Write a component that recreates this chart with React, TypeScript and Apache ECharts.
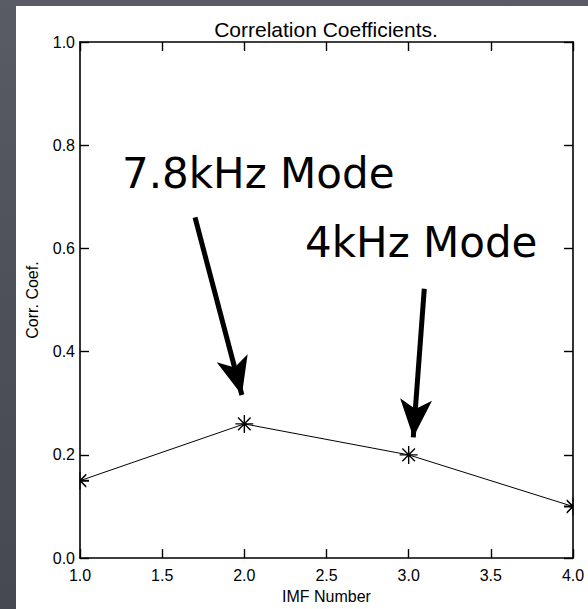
import React, { useEffect, useRef } from "react";
import * as echarts from "echarts";

const IMF_NUMBERS = [1, 2, 3, 4];
const CORR_COEFS = [0.15, 0.26, 0.2, 0.1];
const X_RANGE = [1, 4, 0.5];
const Y_RANGE = [0, 1, 0.2];
const TITLE = "Correlation Coefficients.";
const X_NAME = "IMF Number";
const Y_NAME = "Corr. Coef.";
// annotation arrows in data coordinates: [fromX, fromY, toX, toY]
const ARROWS = [
  [1.7, 0.66, 1.985, 0.316],
  [3.095, 0.522, 3.028, 0.234],
];
const NOTES = ["7.8kHz Mode", "4kHz Mode"];

const FULL_STAR = "path://M0 5L10 5M5 0L5 10M1.5 1.5L8.5 8.5M1.5 8.5L8.5 1.5";
const RIGHT_HALF = "path://M5 0L5 10M5 5L10 5M5 5L8.5 1.5M5 5L8.5 8.5";
const LEFT_HALF = "path://M5 0L5 10M5 5L0 5M5 5L1.5 1.5M5 5L1.5 8.5";

const AXIS_FONT = "'Liberation Sans', Arial, Helvetica, sans-serif";

export default function App() {
  const ref = useRef<HTMLDivElement>(null);
  useEffect(() => {
    if (!ref.current) return;
    const chart = echarts.init(ref.current, undefined, { renderer: "svg" });
    const last = IMF_NUMBERS.length - 1;
    const data = IMF_NUMBERS.map((x, i) => {
      const item: any = { value: [x, CORR_COEFS[i]] };
      if (i === 0) {
        item.symbol = RIGHT_HALF;
        item.symbolSize = [9, 18];
        item.symbolOffset = [4.5, 0];
      } else if (i === last) {
        item.symbol = LEFT_HALF;
        item.symbolSize = [9, 18];
        item.symbolOffset = [-4.5, 0];
      }
      return item;
    });
    const axisLine = { show: true, onZero: false, lineStyle: { color: "#000", width: 1.6 } };
    const axisTick = { show: true, inside: true, length: 9, lineStyle: { color: "#000", width: 1.4 } };
    const label = { color: "#000", fontSize: 16, fontFamily: AXIS_FONT, formatter: (v: number) => v.toFixed(1) };
    chart.setOption({
      animation: false,
      backgroundColor: "transparent",
      title: {
        text: TITLE,
        left: 326,
        textAlign: "center",
        top: 19,
        padding: 0,
        textStyle: { color: "#000", fontSize: 21, fontWeight: "normal", fontFamily: AXIS_FONT },
      },
      grid: { left: 80, right: 15, top: 42, bottom: 44 },
      xAxis: [
        {
          type: "value", min: X_RANGE[0], max: X_RANGE[1], interval: X_RANGE[2],
          axisLine, axisTick, splitLine: { show: false },
          axisLabel: { ...label, margin: 9 },
          name: X_NAME, nameLocation: "middle", nameGap: 29,
          nameTextStyle: { color: "#000", fontSize: 16, fontFamily: AXIS_FONT },
        },
        {
          type: "value", position: "top", min: X_RANGE[0], max: X_RANGE[1], interval: X_RANGE[2],
          axisLine, axisTick, splitLine: { show: false }, axisLabel: { show: false },
        },
      ],
      yAxis: [
        {
          type: "value", min: Y_RANGE[0], max: Y_RANGE[1], interval: Y_RANGE[2],
          axisLine, axisTick, splitLine: { show: false },
          axisLabel: { ...label, margin: 5 },
          name: Y_NAME, nameLocation: "middle", nameGap: 40, nameRotate: 90,
          nameTextStyle: { color: "#000", fontSize: 16, fontFamily: AXIS_FONT },
        },
        {
          type: "value", position: "right", min: Y_RANGE[0], max: Y_RANGE[1], interval: Y_RANGE[2],
          axisLine, axisTick, splitLine: { show: false }, axisLabel: { show: false },
        },
      ],
      series: [
        {
          type: "line",
          data,
          clip: false,
          symbol: FULL_STAR,
          symbolSize: 18,
          showAllSymbol: true,
          lineStyle: { color: "#000", width: 1 },
          itemStyle: { color: "transparent", borderColor: "#000", borderWidth: 1.4 },
          emphasis: { disabled: true },
          markLine: {
            silent: true,
            symbol: ["none", "arrow"],
            lineStyle: { color: "#000", width: 5, type: "solid" },
            label: { show: false },
            emphasis: { disabled: true },
            data: ARROWS.map((a) => [
              { coord: [a[0], a[1]], symbol: "none" },
              { coord: [a[2], a[3]], symbol: "arrow", symbolSize: [24, 38] },
            ]),
          },
        },
      ],
      graphic: [
        {
          type: "text", x: 122, y: 173.5,
          style: { text: NOTES[0], fill: "#000", fontSize: 42, fontFamily: "'DejaVu Sans', sans-serif", verticalAlign: "middle" },
        },
        {
          type: "text", x: 305, y: 242.5,
          style: { text: NOTES[1], fill: "#000", fontSize: 42, fontFamily: "'DejaVu Sans', sans-serif", verticalAlign: "middle" },
        },
      ],
    });
    return () => chart.dispose();
  }, []);
  return (
    <div style={{ position: "fixed", left: 0, top: 0, width: 588, height: 609, background: "linear-gradient(180deg, #595c64 0%, #4d5058 50%, #464951 100%)", overflow: "hidden" }}>
      <div style={{ position: "absolute", left: 16, top: 6, width: 572, height: 603, background: "#fff" }} />
      <div ref={ref} style={{ position: "absolute", left: 0, top: 0, width: 588, height: 609 }} />
    </div>
  );
}
